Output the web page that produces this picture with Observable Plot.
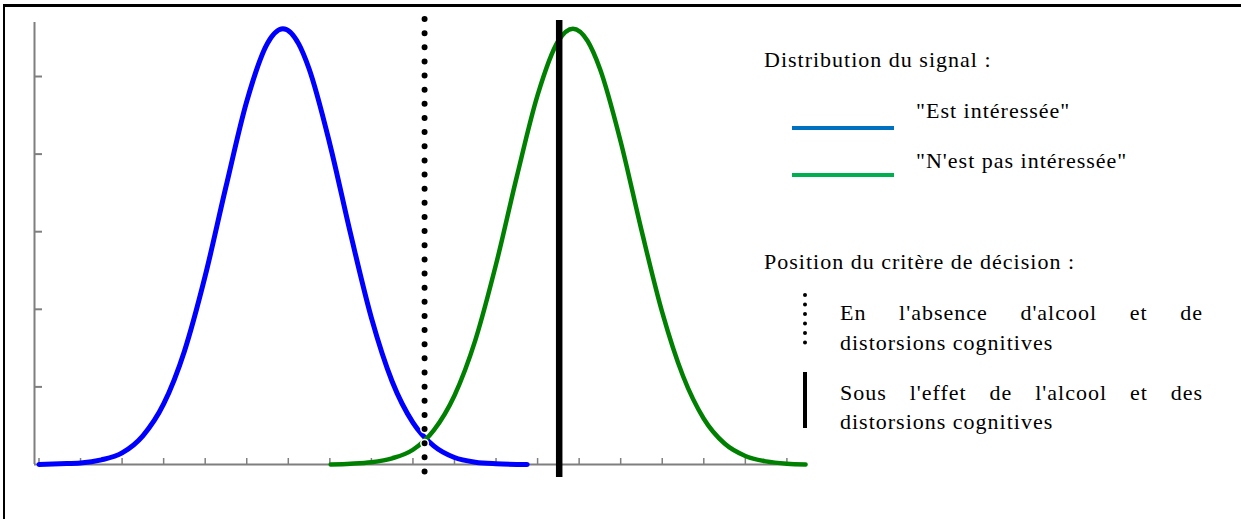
<!DOCTYPE html>
<html><head><meta charset="utf-8">
<script src="https://cdn.jsdelivr.net/npm/d3@7"></script>
<script src="https://cdn.jsdelivr.net/npm/@observablehq/plot@0.6"></script>
<style>
html,body{margin:0;padding:0;background:#fff;}
#wrap{position:relative;width:1241px;height:519px;overflow:hidden;font-family:"Liberation Serif","Times New Roman",serif;color:#000;}
#frame{position:absolute;left:3px;top:4px;right:-10px;bottom:-10px;border-top:3px solid #000;border-left:2px solid #000;}
#chart{position:absolute;left:0;top:0;}
.t{position:absolute;font-size:22px;line-height:30px;letter-spacing:1px;white-space:nowrap;}
.j{position:absolute;font-size:22px;line-height:30px;letter-spacing:1px;white-space:nowrap;text-align:justify;text-align-last:justify;width:363px;}
.sw{position:absolute;}
</style></head><body>
<div id="wrap">
  <div id="frame"></div>
  <div id="chart"></div>
  <div class="t" style="left:764px;top:45px" id="h1"></div>
  <div class="sw" style="left:792px;top:126px;width:102px;height:4px;background:#0070C0"></div>
  <div class="t" style="left:916px;top:96px" id="l1"></div>
  <div class="sw" style="left:792px;top:173px;width:102px;height:4px;background:#00B050"></div>
  <div class="t" style="left:916px;top:146px" id="l2"></div>
  <div class="t" style="left:764px;top:247px" id="h2"></div>
  <svg class="sw" style="left:801px;top:290px" width="8" height="58"><line x1="4" x2="4" y1="5" y2="53" stroke="#000" stroke-width="4" stroke-linecap="round" stroke-dasharray="0,9.5"/></svg>
  <div class="j" style="left:840px;top:298px" id="c1a"></div>
  <div class="t" style="left:840px;top:328px" id="c1b"></div>
  <div class="sw" style="left:803px;top:372px;width:4px;height:56px;background:#000"></div>
  <div class="j" style="left:840px;top:378px" id="c2a"></div>
  <div class="t" style="left:840px;top:407px" id="c2b"></div>
</div>
<script>
// Data (x in tick units, y in tick units)
const blueU = [0, 0.5, 1, 1.5, 2, 2.5, 3, 3.5, 4, 4.5, 5, 5.5, 5.87, 6.25, 6.5, 7, 7.5, 8, 8.5, 9, 9.5, 10, 10.5, 11, 11.75];
const blueV = [0.00, 0.01, 0.02, 0.06, 0.15, 0.37, 0.78, 1.46, 2.43, 3.58, 4.68, 5.43, 5.615, 5.42, 5.10, 4.13, 2.97, 1.89, 1.07, 0.54, 0.24, 0.09, 0.03, 0.01, 0.00];
const greenU = [7.02, 7.5, 8, 8.5, 9, 9.5, 10, 10.5, 11, 11.5, 12, 12.5, 12.85, 13.2, 13.5, 14, 14.5, 15, 15.5, 16, 16.5, 17, 17.5, 18, 18.45];
const greenV = [0.00, 0.01, 0.03, 0.08, 0.19, 0.44, 0.89, 1.60, 2.58, 3.71, 4.76, 5.46, 5.615, 5.46, 5.10, 4.16, 3.02, 1.96, 1.14, 0.59, 0.27, 0.11, 0.04, 0.01, 0.00];
const criterionSober = [9.28];
const criterionAlcohol = [12.52];
const xTicks = [0, 1, 2, 3, 4, 5, 6, 7, 8, 9, 10, 11, 12, 13, 14, 15, 16, 17, 18];
const yTicks = [1, 2, 3, 4, 5];
const xDomain = [-0.1083, 18.472];
const yDomain = [0, 5.696];

const legendTitles = ["Distribution du signal :", "Position du critère de décision :"];
const seriesLabels = ["\"Est intéressée\"", "\"N'est pas intéressée\""];
const criterionLabels = [["En l'absence d'alcool et de", "distorsions cognitives"], ["Sous l'effet de l'alcool et des", "distorsions cognitives"]];

document.getElementById("h1").textContent = legendTitles[0];
document.getElementById("h2").textContent = legendTitles[1];
document.getElementById("l1").textContent = seriesLabels[0];
document.getElementById("l2").textContent = seriesLabels[1];
document.getElementById("c1a").textContent = criterionLabels[0][0];
document.getElementById("c1b").textContent = criterionLabels[0][1];
document.getElementById("c2a").textContent = criterionLabels[1][0];
document.getElementById("c2b").textContent = criterionLabels[1][1];

const blue = blueU.map((u, i) => ({u, v: blueV[i]}));
const green = greenU.map((u, i) => ({u, v: greenV[i]}));

const chart = Plot.plot({
  width: 820, height: 519,
  marginLeft: 34, marginRight: 14, marginTop: 22, marginBottom: 55,
  x: {domain: xDomain},
  y: {domain: yDomain},
  style: {background: "transparent", overflow: "visible"},
  marks: [
    Plot.ruleX([xDomain[0]], {stroke: "#7f7f7f", strokeWidth: 2}),
    Plot.ruleY([0], {stroke: "#7f7f7f", strokeWidth: 2}),
    Plot.axisY({ticks: yTicks, tickSize: -8, stroke: "#7f7f7f", strokeWidth: 2, fill: "none", label: null}),
    Plot.axisX({ticks: xTicks, tickSize: -6, stroke: "#7f7f7f", strokeWidth: 1.5, fill: "none", label: null}),
    Plot.line(blue, {x: "u", y: "v", stroke: "#0000ff", strokeWidth: 5, curve: "monotone-x"}),
    Plot.line(green, {x: "u", y: "v", stroke: "#008000", strokeWidth: 4.5, curve: "monotone-x"}),
    Plot.ruleX(criterionSober, {stroke: "#fff", strokeWidth: 9, strokeDasharray: "0,14.14", strokeLinecap: "round", insetTop: -3, insetBottom: -8}),
    Plot.ruleX(criterionSober, {stroke: "#000", strokeWidth: 6, strokeDasharray: "0,14.14", strokeLinecap: "round", insetTop: -3, insetBottom: -8}),
    Plot.ruleX(criterionAlcohol, {stroke: "#000", strokeWidth: 6.5, insetTop: -2, insetBottom: -13})
  ]
});
document.getElementById("chart").appendChild(chart);
</script>
</body></html>
